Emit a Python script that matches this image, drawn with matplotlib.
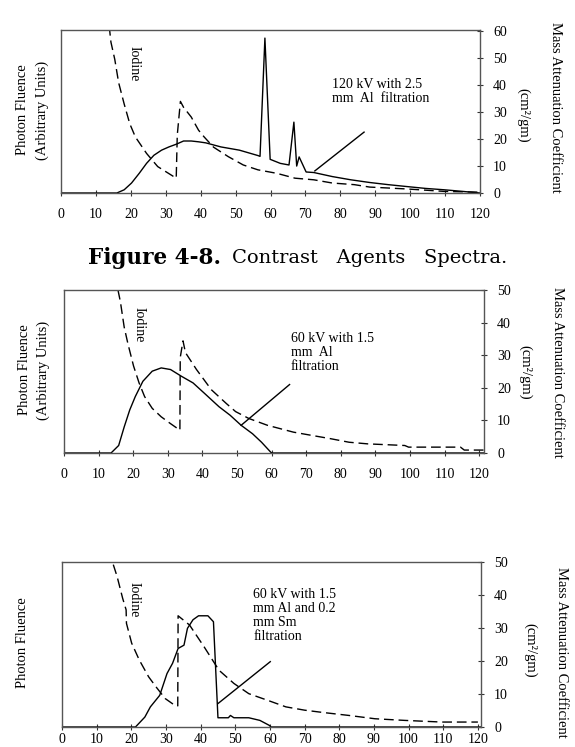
import matplotlib
matplotlib.use("Agg")
import matplotlib.pyplot as plt

plt.rcParams['font.family'] = ['Liberation Serif', 'DejaVu Serif']

# ---------------- data ----------------
x_ticks = [0, 10, 20, 30, 40, 50, 60, 70, 80, 90, 100, 110, 120]

# Panel 1: 120 kV with 2.5 mm Al
p1_spec_kev = [0, 16, 18.1, 20.2, 22.4, 24.5, 26.6, 28.8, 30.9, 33, 35.1, 37.3, 39.4, 41.5,
               45.8, 51.1, 56.4, 57.0, 58.4, 59.9, 62.8, 65.3, 66.7, 67.5, 68.2, 70.2, 72.4,
               77.7, 83, 88.4, 93.7, 99, 104.4, 109.7, 115, 120]
p1_spec_val = [0, 0, 1.2, 3.7, 7.3, 11, 14, 15.9, 17.1, 18.1, 19.3, 19.3, 19.0, 18.6,
               17.1, 15.9, 13.9, 13.6, 57.5, 12.5, 11.0, 10.4, 26.3, 10.0, 13.4, 7.8, 7.6,
               6.1, 4.9, 3.9, 3.1, 2.4, 1.7, 1.2, 0.6, 0]
p1_iod_kev = [13.8, 14.3, 15.4, 16.5, 18.1, 19.7, 21.3, 24.5, 27.7, 33.0, 33.3, 34.2, 35.1,
              37.3, 39.4, 41.0, 43.7, 47.9, 52.2, 56.4, 61.8, 67.0, 72.4, 77.7, 84.0, 88.4,
              99.0, 109.7, 120.0]
p1_iod_val = [62, 56, 49.6, 41, 33, 25.7, 20.8, 14.7, 9.8, 5.5, 21.5, 34.0, 31.8,
              28.2, 23.3, 20.8, 17.0, 13.5, 10.4, 8.6, 7.3, 5.5, 4.9, 3.7, 3.1, 2.2,
              1.5, 0.6, 0.3]
p1_yticks = [0, 10, 20, 30, 40, 50, 60]

# Panel 2: 60 kV with 1.5 mm Al
p2_spec_kev = [0, 13.6, 15.8, 17.4, 19, 20.6, 22.8, 25.5, 28.1, 30.8, 34, 37.3, 40.5, 44.8,
               48, 51.2, 54.5, 57.1, 59.8, 60.3, 121.4]
p2_spec_val = [0, 0, 2.3, 8, 13.2, 17.3, 22, 25.1, 26.1, 25.6, 23.5, 21.5, 18.4, 14.2,
               11.6, 8.5, 5.9, 3.3, 0.2, 0, 0]
p2_iod_kev = [15.6, 16.3, 17.4, 18.5, 20.1, 21.7, 23.3, 25.5, 28.1, 30.8, 33.5, 33.6, 34.4,
              35.1, 38.3, 42.6, 46.9, 49.6, 53.4, 58.8, 66.3, 71.6, 77, 82.4, 87.8, 98.5,
              99.6, 114.6, 115.7, 121.4]
p2_iod_val = [50, 46.4, 38.6, 33.4, 26.7, 21.5, 17.3, 13.7, 11.1, 9.0, 7.0, 29.3, 34.4,
              30.8, 25.6, 19.4, 15.2, 12.7, 10.6, 8.5, 6.4, 5.4, 4.4, 3.3, 2.8, 2.3,
              1.8, 1.8, 0.9, 0.9]
p2_yticks = [0, 10, 20, 30, 40, 50]

# Panel 3: 60 kV with 1.5 mm Al and 0.2 mm Sm
p3_spec_kev = [0, 21.2, 23.9, 25.5, 28.2, 30.3, 31.9, 33.5, 35.2, 36.2, 37.8, 39.4, 42.1,
               43.7, 45, 48, 48.6, 49.6, 53.9, 57.1, 59.8, 60.3, 120.9]
p3_spec_val = [0, 0, 3, 6.1, 9.6, 16.2, 19.3, 23.8, 24.8, 29.9, 32.5, 33.7, 33.7,
               31.9, 2.8, 2.8, 3.5, 2.8, 2.8, 2.0, 0.5, 0, 0]
p3_iod_kev = [14.8, 15.9, 17.5, 18.5, 18.6, 20.1, 22.3, 25, 27.1, 29.8, 32.5, 33.4, 33.5,
              36.8, 41, 45.3, 49.6, 53.9, 59.3, 64.6, 70, 75.3, 82.8, 90.3, 98.9, 109.6, 120]
p3_iod_val = [49.2, 45.6, 39, 35.5, 31.4, 25.4, 20.3, 15.2, 12.2, 8.6, 6.6, 6.4, 33.7,
              30.9, 24.3, 17.2, 13.2, 10.1, 8.1, 6.1, 5.1, 4.4, 3.5, 2.5, 2.0, 1.5, 1.5]
p3_yticks = [0, 10, 20, 30, 40, 50]

p1_note = "120 kV with 2.5\nmm  Al  filtration"
p2_note = "60 kV with 1.5\nmm  Al\nfiltration"
p3_note = "60 kV with 1.5\nmm Al and 0.2\nmm Sm\nfiltration"

# ---------------- figure ----------------
W, H = 575, 747
fig = plt.figure(figsize=(W / 100, H / 100), dpi=100)


def add_ax(left, right, top, bottom):
    return fig.add_axes([left / W, 1 - bottom / H, (right - left) / W, (bottom - top) / H])


SPINE = '#555555'
DASH = (0, (7, 3.5))


def style(ax, xmax, ymax, yticks, xpad):
    ax.set_xlim(0, xmax)
    ax.set_ylim(0, ymax)
    for s in ax.spines.values():
        s.set_color(SPINE)
        s.set_linewidth(1.0)
    ax.set_xticks(x_ticks)
    ax.set_xticklabels([str(t) for t in x_ticks])
    ax.tick_params(axis='x', direction='inout', length=5, width=0.8, color='#333333',
                   labelsize=10, pad=xpad)
    ax.yaxis.tick_right()
    ax.set_yticks(yticks)
    ax.set_yticklabels([str(t) for t in yticks])
    ax.tick_params(axis='y', direction='inout', length=5, width=0.8, color='#333333',
                   labelsize=10, pad=7, left=False, right=True)


# Panel 1
ax1 = add_ax(61, 480, 30, 193)
ax1.plot(p1_spec_kev, p1_spec_val, color='black', lw=1.0)
ax1.plot(p1_iod_kev, p1_iod_val, color='black', lw=1.0, ls=DASH)
style(ax1, 120, 60.5, p1_yticks, 8)
ax1.plot([72.7, 86.8], [8.2, 22.6], color='black', lw=1.0)
ax1.text(77.5, 42.5, p1_note, fontsize=10, va='top', ha='left', linespacing=1.1)
ax1.text(20.9, 48, "Iodine", fontsize=10, rotation=-90, ha='center', va='center')

# Panel 2
ax2 = add_ax(64, 484, 290, 453)
ax2.plot(p2_spec_kev, p2_spec_val, color='black', lw=1.0)
ax2.plot(p2_iod_kev, p2_iod_val, color='black', lw=1.0, ls=DASH)
style(ax2, 121.4, 50, p2_yticks, 8)
ax2.plot([51.2, 65.2], [8.5, 21], color='black', lw=1.0)
ax2.text(65.5, 37, p2_note, fontsize=10, va='top', ha='left', linespacing=1.1)
ax2.text(21.7, 39.4, "Iodine", fontsize=10, rotation=-90, ha='center', va='center')

# Panel 3
ax3 = add_ax(62, 481, 562, 727)
ax3.plot(p3_spec_kev, p3_spec_val, color='black', lw=1.0)
ax3.plot(p3_iod_kev, p3_iod_val, color='black', lw=1.0, ls=DASH)
style(ax3, 120.9, 50, p3_yticks, 2)
ax3.plot([45, 60.1], [7.1, 19.8], color='black', lw=1.0)
ax3.text(55.2, 42, p3_note, fontsize=10, va='top', ha='left', linespacing=1.1)
ax3.text(20.7, 38.5, "Iodine", fontsize=10, rotation=-90, ha='center', va='center')

# Side labels
def ftext(x, y, s, rot, size=10.5):
    fig.text(x / W, 1 - y / H, s, rotation=rot, ha='center', va='center', fontsize=size)

ftext(23, 110, "Photon Fluence", 90)
ftext(42, 110, "(Arbitrary Units)", 90)
ftext(24, 370, "Photon Fluence", 90)
ftext(43, 370, "(Arbitrary Units)", 90)
ftext(23, 643, "Photon Fluence", 90)

ftext(556, 107, "Mass Attenuation Coefficient", -90)
ftext(523, 115, "(cm\u00b2/gm)", -90)
ftext(558, 372, "Mass Attenuation Coefficient", -90)
ftext(525, 372, "(cm\u00b2/gm)", -90)
ftext(562, 652, "Mass Attenuation Coefficient", -90)
ftext(530, 650, "(cm\u00b2/gm)", -90)

# Caption
cap_y = 1 - 258 / H
fig.text(88 / W, cap_y, "Figure 4-8.", fontsize=15.5, fontweight='bold',
         family='DejaVu Serif', ha='left', va='center')
fig.text(232 / W, cap_y, "Contrast   Agents   Spectra.", fontsize=14,
         family='DejaVu Serif', ha='left', va='center')

fig.savefig("out.png", dpi=100)
